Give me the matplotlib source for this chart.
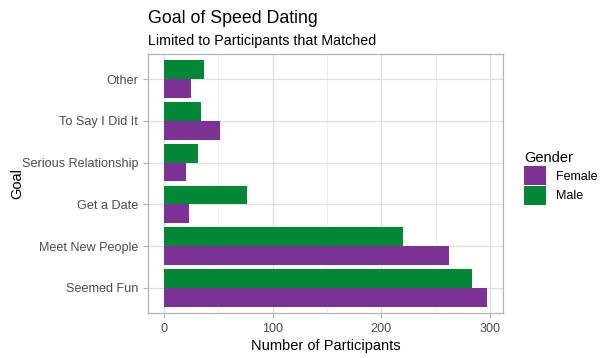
import matplotlib
matplotlib.use("Agg")
import matplotlib.pyplot as plt
import numpy as np
from matplotlib.patches import Patch

goals = ['Seemed Fun', 'Meet New People', 'Get a Date', 'Serious Relationship',
         'To Say I Did It', 'Other']
female = [297, 262, 23, 20, 51, 25]
male = [283, 220, 76, 31, 34, 37]
x_ticks = [0, 100, 200, 300]

purple = '#7B3294'
green = '#008837'

plt.rcParams['font.family'] = ['Liberation Sans', 'DejaVu Sans']

fig = plt.figure(figsize=(6.12, 3.58), dpi=100)
ax = fig.add_axes([0.2418, 0.1257, 0.58, 0.7233])

y = np.arange(len(goals))
h = 0.45
ax.barh(y - h / 2, female, height=h, color=purple, zorder=3)
ax.barh(y + h / 2, male, height=h, color=green, zorder=3)

xmax = max(max(female), max(male))
ax.set_xlim(-0.05 * xmax, 1.05 * xmax)
ax.set_ylim(-0.6, len(goals) - 0.4)
ax.set_xticks(x_ticks)
ax.set_xticks([50, 150, 250], minor=True)
ax.set_yticks(y)
ax.set_yticklabels(goals)

ax.grid(True, which='major', color='#DEDEDE', linewidth=0.9, zorder=0)
ax.grid(True, which='minor', axis='x', color='#EBEBEB', linewidth=0.6, zorder=0)
ax.tick_params(which='major', colors='#B3B3B3', labelcolor='#4D4D4D',
               labelsize=9.1, length=3.5, width=0.8)
ax.tick_params(which='minor', length=0)
for s in ax.spines.values():
    s.set_color('#B3B3B3')
    s.set_linewidth(0.9)

ax.set_xlabel('Number of Participants', fontsize=10.5, labelpad=3)
ax.set_ylabel('Goal', fontsize=10.5, labelpad=-1.5)

fig.text(0.2418, 0.935, 'Goal of Speed Dating', fontsize=12.8, ha='left', va='baseline')
fig.text(0.2418, 0.875, 'Limited to Participants that Matched', fontsize=10.3, ha='left', va='baseline')

handles = [Patch(facecolor=purple, label='Female'), Patch(facecolor=green, label='Male')]
leg = fig.legend(handles=handles, title='Gender', loc='upper left',
                 bbox_to_anchor=(0.846, 0.595), frameon=False, fontsize=9,
                 title_fontsize=10.5, handlelength=1.75, handleheight=1.9,
                 labelspacing=0.1, handletextpad=0.8, borderpad=0)
leg._legend_box.align = 'left'

fig.savefig('out.png', dpi=100)
